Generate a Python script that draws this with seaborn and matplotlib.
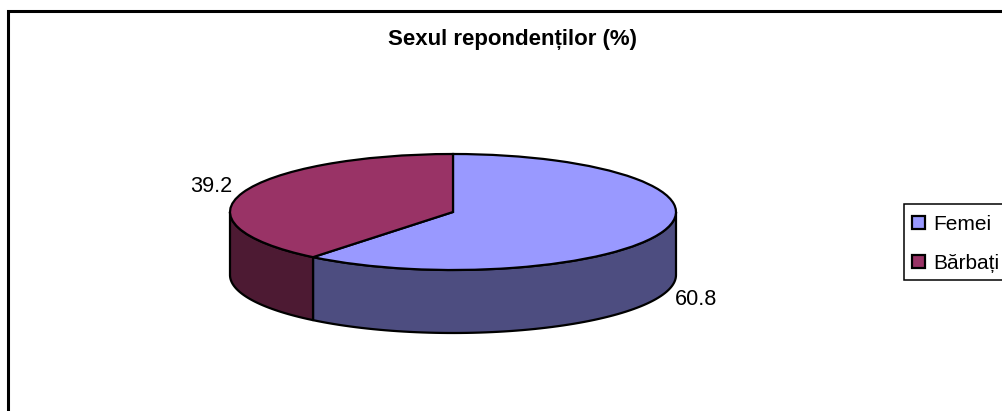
import numpy as np
import matplotlib
matplotlib.use("Agg")
import matplotlib.pyplot as plt
from matplotlib.patches import Rectangle, Patch
import seaborn as sns

title = "Sexul repondenților (%)"
categories = ["Femei", "Bărbați"]
values = [60.8, 39.2]
value_labels = ["60.8", "39.2"]
top_colors = ["#9999FF", "#993366"]
side_colors = ["#4D4D80", "#4D1A33"]

sns.set_theme(style="white")
plt.rcParams["font.family"] = ["Liberation Sans", "DejaVu Sans"]

W, H = 1002, 411
fig = plt.figure(figsize=(W / 100, H / 100), dpi=100, facecolor="white")

def px_box(x0, y0, x1, y1):
    return [x0 / W, 1 - y1 / H, (x1 - x0) / W, (y1 - y0) / H]

# outer frame, running off the right and bottom edges
fig.add_artist(Rectangle((8 / W, -0.1), 1.1, 1 + 0.1 - 11 / H, transform=fig.transFigure,
                         fill=False, edgecolor="black", linewidth=2.2))

cx0, cx1, cy0, cy1 = 230, 676, 154, 270
depth_px = 63
ax = fig.add_axes(px_box(cx0, cy0, cx1, cy1 + depth_px))
ax.set_facecolor("none")
depth = depth_px / ((cy1 - cy0) / 2)

# angles clockwise from 12 o'clock
edges = np.concatenate([[0], np.cumsum(values)]) / sum(values) * 2 * np.pi
for i in range(len(values)):
    a = max(edges[i], np.pi / 2)
    b = min(edges[i + 1], 3 * np.pi / 2)
    if b <= a:
        continue
    t = np.linspace(a, b, 80)
    xs = np.concatenate([np.sin(t), np.sin(t[::-1])])
    ys = np.concatenate([np.cos(t), np.cos(t[::-1]) - depth])
    ax.fill(xs, ys, facecolor=side_colors[i], edgecolor="black", linewidth=1.6,
            joinstyle="round", clip_on=False, zorder=1)

ax.pie(values, colors=top_colors, startangle=90, counterclock=False, radius=1,
       wedgeprops=dict(edgecolor="black", linewidth=1.6, clip_on=False, zorder=2))
ax.set_aspect("auto")
ax.set_xlim(-1, 1)
ax.set_ylim(-1 - depth, 1)
ax.set_axis_off()

# value labels at figure pixel anchors
fig.text(696 / W, 1 - 299 / H, value_labels[0], ha="center", va="center", fontsize=15.6, color="black")
fig.text(211 / W, 1 - 186 / H, value_labels[1], ha="center", va="center", fontsize=15.6, color="black")

fig.text(513 / W, 1 - 40 / H, title, ha="center", va="center", fontsize=16,
         fontweight="bold", color="black")

# legend box and entries
fig.add_artist(Rectangle((904 / W, 1 - 280 / H), 0.2, 76 / H, transform=fig.transFigure,
                         facecolor="white", edgecolor="black", linewidth=1.1))
handles = [Patch(facecolor=c, edgecolor="black", linewidth=1.6) for c in top_colors]
leg = fig.legend(handles, categories, loc="upper left",
                 bbox_to_anchor=(912 / W, 1 - 215 / H), bbox_transform=fig.transFigure,
                 fontsize=15, frameon=False, labelcolor="black",
                 handlelength=0.62, handleheight=0.62, handletextpad=0.38,
                 labelspacing=0.95, borderpad=0, borderaxespad=0)

fig.savefig("out.png", dpi=100)
